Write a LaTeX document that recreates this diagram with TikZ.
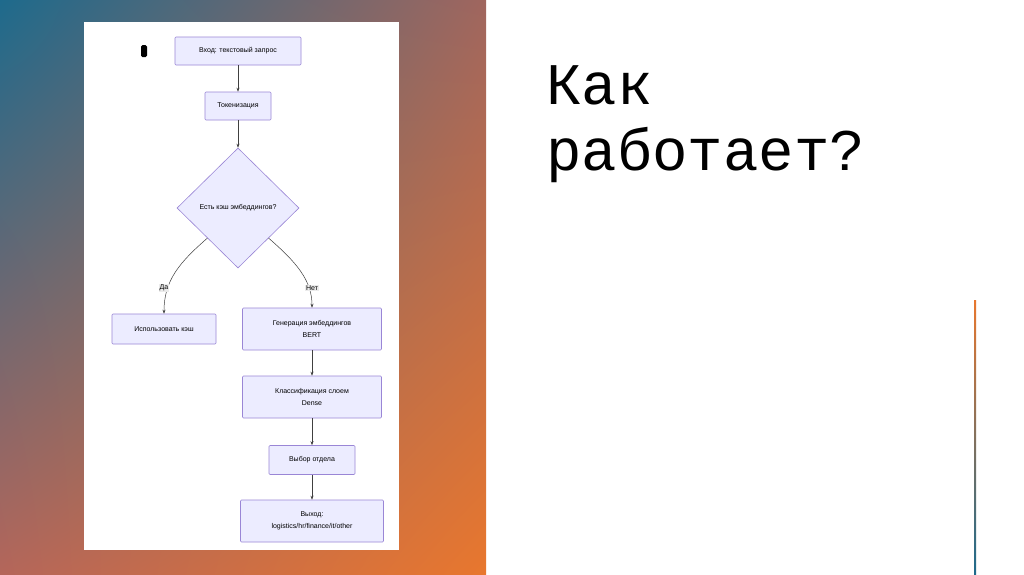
\documentclass[tikz,border=0pt]{standalone}
\usepackage{fontspec}
\setmainfont{Liberation Sans}
\newfontfamily\titlefont{Liberation Mono}
\usetikzlibrary{shapes.geometric,arrows.meta,shadings}
\definecolor{teal0}{HTML}{1E6A8C}
\definecolor{orng}{HTML}{E8772E}
\definecolor{midA}{HTML}{A0665E}
\definecolor{midB}{HTML}{B4665A}
\definecolor{nfill}{HTML}{ECECFF}
\definecolor{nline}{HTML}{9A86D6}
\tikzset{
  box/.style={draw=nline,fill=nfill,line width=0.6pt,rounded corners=1pt,align=center,font=\fontsize{7}{12}\selectfont,inner sep=0pt},
  dec/.style={draw=nline,fill=nfill,line width=0.6pt,diamond,aspect=1,minimum width=122pt,minimum height=120pt,inner sep=0pt,font=\fontsize{7}{8}\selectfont},
  arr/.style={draw=black!75,line width=0.5pt,-{Stealth[length=4pt,width=3pt]}},
  lbl/.style={fill=black!8,inner sep=1pt,font=\fontsize{7}{8}\selectfont}
}
\begin{document}
\begin{tikzpicture}[x=1pt,y=-1pt]
\useasboundingbox (0,0) rectangle (1024,574);
\fill[white] (0,0) rectangle (1024,574);
\shade[upper left=teal0,upper right=midA,lower left=midB,lower right=orng] (0,0) rectangle (486,574);
\fill[white] (84,22) rectangle (399,550);
\shade[top color=orng,bottom color=teal0] (974,300) rectangle (976,574);
\node[anchor=base west,font=\titlefont\fontsize{59}{66}\selectfont,inner sep=0pt] (t1) at (546,104) {Как};
\node[anchor=base west,font=\titlefont\fontsize{59}{66}\selectfont,inner sep=0pt] (t2) at (546,170) {работает?};
\node[fill=black,rounded corners=1.5pt,minimum width=6pt,minimum height=12pt,inner sep=0pt] (blk) at (144,51) {};
\node[box,minimum width=126pt,minimum height=28pt] (in) at (238,51) {Вход: текстовый запрос};
\node[box,minimum width=66pt,minimum height=28pt] (tok) at (238,106) {Токенизация};
\node[dec] (d) at (238,208) {Есть кэш эмбеддингов?};
\node[box,minimum width=104pt,minimum height=30pt] (use) at (164,329) {Использовать кэш};
\node[box,minimum width=139pt,minimum height=42pt] (gen) at (312,329) {Генерация эмбеддингов\\BERT};
\node[box,minimum width=139pt,minimum height=42pt] (cls) at (312,397) {Классификация слоем\\Dense};
\node[box,minimum width=86pt,minimum height=29pt] (sel) at (312,460) {Выбор отдела};
\node[box,minimum width=143pt,minimum height=42pt] (out) at (312,521) {Выход:\\logistics/hr/finance/it/other};
\draw[arr] (in) -- (tok);
\draw[arr] (tok) -- (d);
\draw[arr] (d.south west) .. controls (180,262) and (164,280) .. (use.north);
\draw[arr] (d.south east) .. controls (296,262) and (312,280) .. (gen.north);
\node[lbl] (ya) at (164,288) {Да};
\node[lbl] (no) at (312,288) {Нет};
\draw[arr] (gen) -- (cls);
\draw[arr] (cls) -- (sel);
\draw[arr] (sel) -- (out);
\end{tikzpicture}
\end{document}
